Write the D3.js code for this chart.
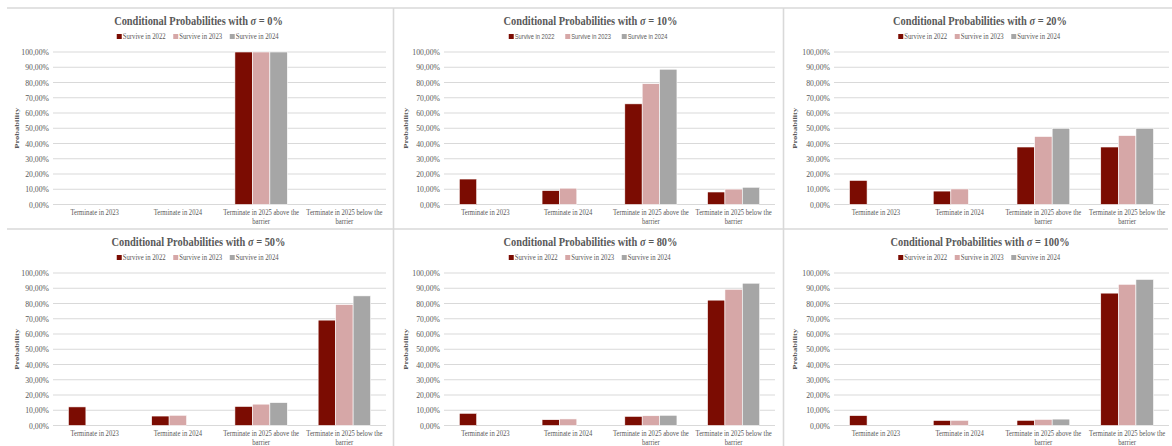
<!DOCTYPE html>
<html>
<head>
<meta charset="utf-8">
<script src="https://cdn.jsdelivr.net/npm/d3@7"></script>
<style>
  html, body { margin: 0; padding: 0; background: #ffffff; }
  svg { display: block; }
  text { font-family: "Liberation Serif", "Times New Roman", serif; fill: #595959; }
</style>
</head>
<body>
<svg id="chart" width="1172" height="446"></svg>
<script>
// Outcome categories on the x axis
const categories = [
  "Terminate in 2023",
  "Terminate in 2024",
  "Terminate in 2025 above the barrier",
  "Terminate in 2025 below the barrier"
];
// Series shown in every panel
const seriesNames = ["Survive in 2022", "Survive in 2023", "Survive in 2024"];
const seriesColors = ["#7b0c02", "#d6a7a7", "#a6a6a6"];
// Volatility levels, one panel each
const sigmaLabels = ["0%", "10%", "20%", "50%", "80%", "100%"];
// y axis ticks (fractions)
const yTicks = [0, 0.1, 0.2, 0.3, 0.4, 0.5, 0.6, 0.7, 0.8, 0.9, 1.0];

// Conditional probabilities per panel: rows = series, columns = categories (null = no bar)
const sigma0   = [[0, 0, 1.000, 0], [null, 0, 1.000, 0], [null, null, 1.000, 0]];
const sigma10  = [[0.167, 0.091, 0.660, 0.082], [null, 0.107, 0.792, 0.101], [null, null, 0.887, 0.113]];
const sigma20  = [[0.158, 0.088, 0.377, 0.377], [null, 0.102, 0.446, 0.452], [null, null, 0.500, 0.500]];
const sigma50  = [[0.122, 0.062, 0.125, 0.691], [null, 0.067, 0.140, 0.793], [null, null, 0.150, 0.850]];
const sigma80  = [[0.080, 0.038, 0.060, 0.822], [null, 0.043, 0.064, 0.893], [null, null, 0.067, 0.933]];
const sigma100 = [[0.065, 0.033, 0.034, 0.868], [null, 0.034, 0.040, 0.926], [null, null, 0.042, 0.958]];
const panelValues = [sigma0, sigma10, sigma20, sigma50, sigma80, sigma100];

const svg = d3.select("#chart");
const SX = 0.8; // horizontal squeeze applied to text
const fmt = v => d3.format(".2f")(v * 100).replace(".", ",") + "%";

// Panel frames
const colX = [0, 393, 784];
const colW = [393, 391, 388];
const rowY = [8, 229];
const plotX = [[53, 386], [444, 775], [834, 1169]];
const yTitleOff = [19, 15, 13];

// light separators between panels
const sep = svg.append("g").attr("stroke", "#d9d9d9").attr("stroke-width", 1.6);
sep.append("line").attr("x1", 7).attr("x2", 1172).attr("y1", 8).attr("y2", 8);
sep.append("line").attr("x1", 7).attr("x2", 1168).attr("y1", 229).attr("y2", 229);
sep.append("line").attr("x1", 393.5).attr("x2", 393.5).attr("y1", 8).attr("y2", 446);
sep.append("line").attr("x1", 783.5).attr("x2", 783.5).attr("y1", 8).attr("y2", 446);

function squeezedText(g, x, y, str, opts) {
  const t = g.append("text")
    .attr("transform", `translate(${x},${y}) scale(${opts.sx || SX},1)`)
    .attr("text-anchor", opts.anchor || "middle")
    .attr("font-size", opts.size)
    .attr("font-weight", opts.weight || "normal")
    .text(str);
  if (opts.family) t.style("font-family", opts.family);
  return t;
}

panelValues.forEach((vals, i) => {
  const col = i % 3, row = Math.floor(i / 3);
  const px = colX[col], pw = colW[col], py = rowY[row];
  const [x0, x1] = plotX[col];
  const yTop = py + 44, yBot = py + 196.5;
  const g = svg.append("g");

  const x = d3.scaleBand().domain(categories).range([x0, x1]).paddingInner(0).paddingOuter(0);
  const bw = x.bandwidth();
  const groupW = bw * 0.63;
  const xs = d3.scaleBand().domain(seriesNames).range([0, groupW]).padding(0);
  const y = d3.scaleLinear().domain([0, 1]).range([yBot, yTop]);

  // gridlines
  g.append("g").selectAll("line").data(yTicks).join("line")
    .attr("x1", x0).attr("x2", x1)
    .attr("y1", d => y(d)).attr("y2", d => y(d))
    .attr("stroke", "#d9d9d9").attr("stroke-width", 1);

  // y tick labels
  yTicks.forEach(t => squeezedText(g, x0 - 4, y(t) + 3, fmt(t), { anchor: "end", size: 9.2, sx: 0.84 }));

  // bars
  seriesNames.forEach((s, si) => {
    const data = categories.map((c, ci) => ({ c, v: vals[si][ci] })).filter(d => d.v !== null && d.v > 0);
    g.append("g").selectAll("rect").data(data).join("rect")
      .attr("x", d => x(d.c) + (bw - groupW) / 2 + xs(s))
      .attr("width", xs.bandwidth())
      .attr("y", d => y(d.v))
      .attr("height", d => y(0) - y(d.v))
      .attr("fill", seriesColors[si])
      .attr("stroke", "#ffffff").attr("stroke-width", 0.6);
  });

  // category labels, wrapped to two lines when long
  categories.forEach(c => {
    const cx = x(c) + bw / 2;
    const words = c.split(" ");
    const lines = c.length > 20 ? [words.slice(0, -1).join(" "), words[words.length - 1]] : [c];
    lines.forEach((ln, li) => squeezedText(g, cx, yBot + 10.5 + li * 8.5, ln, { size: 8.3 }));
  });

  // y axis title
  g.append("text")
    .attr("transform", `translate(${px + yTitleOff[col]},${(yTop + yBot) / 2}) rotate(-90) scale(1,${SX})`)
    .attr("text-anchor", "middle")
    .attr("font-size", 8.5)
    .attr("font-weight", "bold")
    .text("Probability");

  // title with sigma
  const title = g.append("text")
    .attr("transform", `translate(${px + pw / 2 + 2},${py + 17}) scale(${SX},1)`)
    .attr("text-anchor", "middle")
    .attr("font-size", 13)
    .attr("font-weight", "bold");
  title.append("tspan").text("Conditional Probabilities with ");
  title.append("tspan").attr("font-style", "italic").text("σ");
  title.append("tspan").text(" = " + sigmaLabels[i]);

  // legend
  const legFamily = i === 1 ? "'Liberation Sans', Arial, sans-serif" : null;
  const itemW = 56.5;
  const lx0 = px + pw / 2 + 5 - itemW * 1.5;
  seriesNames.forEach((s, si) => {
    const lx = lx0 + si * itemW;
    g.append("rect").attr("x", lx).attr("y", py + 26).attr("width", 5).attr("height", 5).attr("fill", seriesColors[si]);
    squeezedText(g, lx + 6, py + 31, s, { anchor: "start", size: i === 1 ? 7.2 : 8.4, family: legFamily });
  });
});
</script>
</body>
</html>
